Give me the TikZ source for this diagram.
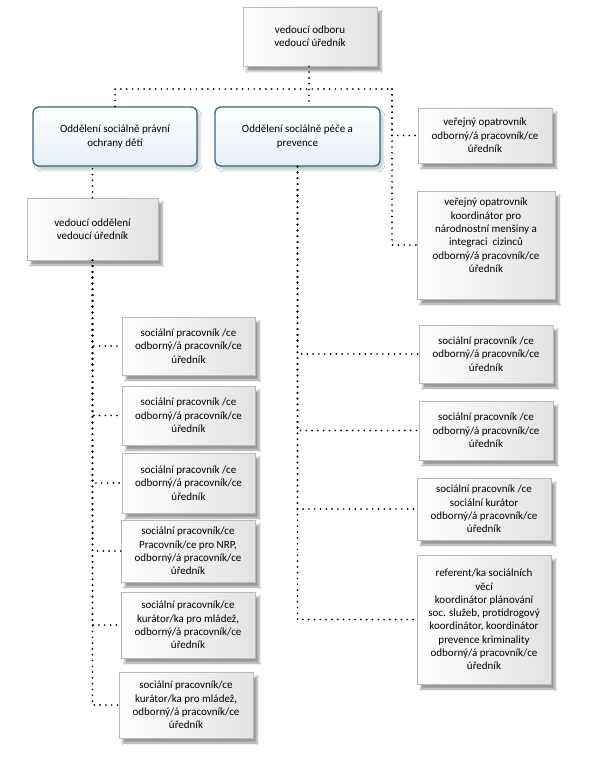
\documentclass[tikz,border=0pt]{standalone}
\usepackage{fontspec}
\setmainfont{Carlito}
\usetikzlibrary{shadows.blur}
\definecolor{deptline}{RGB}{48,105,128}
\definecolor{deptfill}{RGB}{230,240,247}
\begin{document}
\begin{tikzpicture}[x=1pt,y=-1pt,
  box/.style={draw=gray!55, line width=0.5pt, left color=white, right color=gray!22,
    align=center, font=\fontsize{11}{13.3}\selectfont, inner sep=2pt,
    blur shadow={shadow xshift=4pt, shadow yshift=-5pt, shadow blur steps=6, shadow opacity=40}},
  dept/.style={draw=deptline, line width=1.3pt, rounded corners=6pt, top color=white, bottom color=deptfill,
    align=center, font=\fontsize{11}{13.3}\selectfont, inner sep=2pt,
    blur shadow={shadow xshift=3pt, shadow yshift=-4pt, shadow blur steps=6, shadow opacity=20}},
  conn/.style={line width=1.9pt, dash pattern=on 0pt off 5.8pt, line cap=round}]
\fill[white] (0,0) rectangle (597,762);
\useasboundingbox (0,0) rectangle (597,762);

% top
\node[box, minimum width=134pt, minimum height=59pt] (top) at (310,36.5) {vedoucí odboru\\vedoucí úředník};
% departments
\node[dept, minimum width=164pt, minimum height=59pt] (b1) at (115,136.5) {Oddělení sociálně právní\\ochrany dětí};
\node[dept, minimum width=165pt, minimum height=59pt] (b2) at (297.5,136.5) {Oddělení sociálně péče a\\prevence};
\node[box, minimum width=131pt, minimum height=62pt] (b3) at (92.5,229) {vedoucí oddělení\\vedoucí úředník};
% right upper
\node[box, minimum width=134pt, minimum height=55pt] (v1) at (485,135.5) {veřejný opatrovník\\odborný/á pracovník/ce\\úředník};
\node[box, minimum width=138pt, minimum height=108pt] (v2) at (486,245) {veřejný opatrovník\\koordinátor pro\\národnostní menšiny a\\integraci\ \ cizinců\\odborný/á pracovník/ce\\úředník\\[6pt]};
% left column
\node[box, minimum width=133pt, minimum height=58pt] (l1) at (188.5,346) {sociální pracovník /ce\\odborný/á pracovník/ce\\úředník};
\node[box, minimum width=133pt, minimum height=59pt] (l2) at (188.5,415.5) {sociální pracovník /ce\\odborný/á pracovník/ce\\úředník};
\node[box, minimum width=133pt, minimum height=60pt] (l3) at (188.5,483) {sociální pracovník /ce\\odborný/á pracovník/ce\\úředník};
\node[box, minimum width=134pt, minimum height=62pt] (l4) at (188,551) {sociální pracovník/ce\\Pracovník/ce pro NRP,\\odborný/á pracovník/ce\\úředník};
\node[box, minimum width=134pt, minimum height=66pt] (l5) at (188,625) {sociální pracovník/ce\\kurátor/ka pro mládež,\\odborný/á pracovník/ce\\úředník};
\node[box, minimum width=134pt, minimum height=66pt] (l6) at (186,705) {sociální pracovník/ce\\kurátor/ka pro mládež,\\odborný/á pracovník/ce\\úředník};
% right column
\node[box, minimum width=134pt, minimum height=58pt] (r1) at (486,354) {sociální pracovník /ce\\odborný/á pracovník/ce\\úředník};
\node[box, minimum width=134pt, minimum height=59pt] (r2) at (486,430.5) {sociální pracovník /ce\\odborný/á pracovník/ce\\úředník};
\node[box, minimum width=134pt, minimum height=62pt] (r3) at (484,509) {sociální pracovník /ce\\sociální kurátor\\odborný/á pracovník/ce\\úředník};
\node[box, minimum width=134pt, minimum height=129pt] (r4) at (484,619.5) {referent/ka sociálních\\věcí\\koordinátor plánování\\soc. služeb, protidrogový\\koordinátor, koordinátor\\prevence kriminality\\odborný/á pracovník/ce\\úředník};

% connectors
\coordinate (hj) at (309,89);
\coordinate (rt) at (392,89);
\draw[conn] (top.south -| hj) -- (hj |- b2.north);
\draw[conn] (b1.north) |- (hj) -- (rt);
\draw[conn] (rt) |- (v1.west);
\draw[conn] (rt) |- (v2.west);
\draw[conn] (b3.north) -- (b3.north |- b1.south);
\foreach \n in {l1,l2,l3,l4,l5,l6}{\draw[conn] (b3.south) |- (\n.west);}
\foreach \n in {r1,r2,r3,r4}{\draw[conn] (b2.south) |- (\n.west);}
\end{tikzpicture}
\end{document}
